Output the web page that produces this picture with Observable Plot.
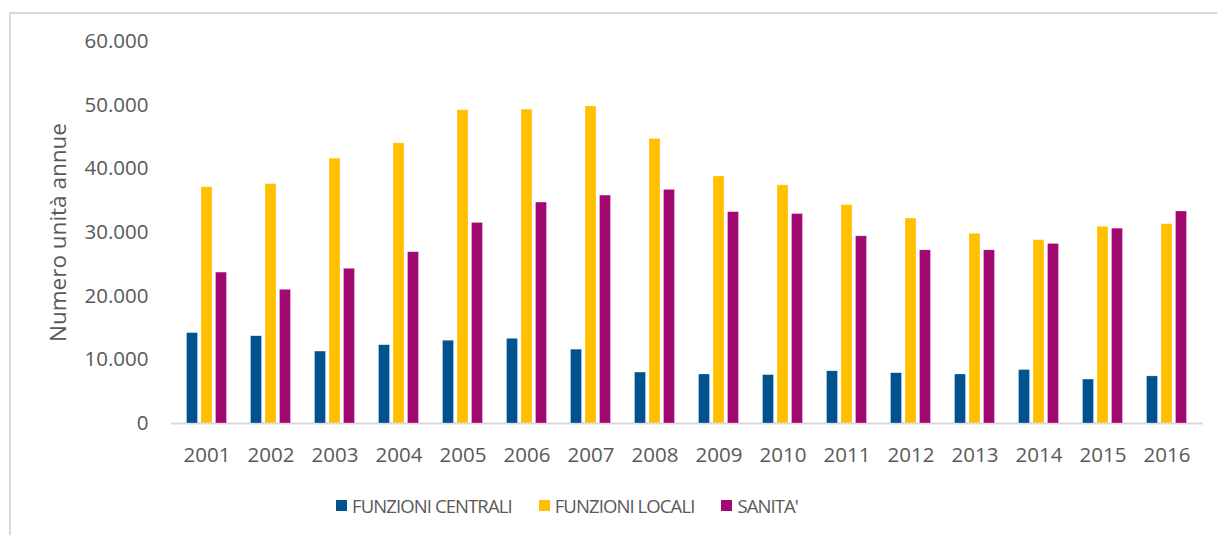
<!DOCTYPE html>
<html><head><meta charset="utf-8">
<script src="https://cdn.jsdelivr.net/npm/d3@7"></script>
<script src="https://cdn.jsdelivr.net/npm/@observablehq/plot@0.6"></script>
<style>
body{margin:0;background:#fff;width:1217px;height:535px;overflow:hidden;position:relative;font-family:"Open Sans",sans-serif;}
#frame{position:absolute;left:9px;top:12px;width:1240px;height:560px;border:2px solid #d9d9d9;box-sizing:border-box}
#chart{position:absolute;left:0;top:0}
#chart g[aria-label="y-axis label"] text{font-size:22.5px}
#legend{position:absolute;top:493px;left:336px;display:flex;align-items:center;font-size:18.5px;letter-spacing:-0.9px;color:#595959;white-space:nowrap}
#legend .item{display:flex;align-items:center;margin-right:27px}
#legend .sw{width:11px;height:11px;margin-right:5px;display:inline-block}
</style></head>
<body>
<div id="frame"></div>
<div id="chart"></div>
<div id="legend"></div>
<script>
const years = ["2001","2002","2003","2004","2005","2006","2007","2008","2009","2010","2011","2012","2013","2014","2015","2016"];
const seriesNames = ["FUNZIONI CENTRALI","FUNZIONI LOCALI","SANITA'"];
const seriesColors = ["#00538F","#FFC000","#A20872"];
const centrali = [14200,13700,11300,12300,13000,13300,11600,8000,7700,7600,8200,7900,7700,8400,6900,7400];
const locali   = [37100,37600,41600,44000,49200,49300,49800,44700,38800,37400,34300,32200,29800,28800,30900,31300];
const sanita   = [23700,21000,24300,26900,31500,34700,35800,36700,33200,32900,29400,27200,27200,28200,30600,33300];
const yTicks = [0,10000,20000,30000,40000,50000,60000];
const yLabel = "Numero unità annue";

const seriesValues = [centrali, locali, sanita];
const rows = [];
seriesNames.forEach((s, i) => years.forEach((y, j) => rows.push({year: y, series: s, value: seriesValues[i][j]})));

const fmt = d3.formatLocale({decimal: ",", thousands: ".", grouping: [3], currency: ["€", ""]}).format(",d");

const plot = Plot.plot({
  width: 1217, height: 480,
  marginLeft: 171, marginRight: 14, marginTop: 41, marginBottom: 57,
  style: {fontFamily: "'Open Sans', sans-serif", fontSize: "20.5px", color: "#595959", background: "transparent"},
  x: {domain: years, paddingInner: 0.825, paddingOuter: 0.4125, label: null, tickSize: 0, tickPadding: 24},
  y: {domain: [0, 60000], ticks: yTicks, tickFormat: fmt, tickSize: 0, tickPadding: 23,
      label: yLabel, labelAnchor: "center", labelOffset: 121, labelArrow: false},
  color: {domain: seriesNames, range: seriesColors},
  marks: [
    Plot.ruleY([0], {stroke: "#d9d9d9", strokeWidth: 2}),
    ...seriesNames.map((s, i) => Plot.barY(rows.filter(d => d.series === s), {
      x: "year", y: "value", fill: "series", dx: (i - 1) * 14.5,
      stroke: "#ffffff", strokeOpacity: 0.45, strokeWidth: 0.6
    }))
  ]
});
document.getElementById("chart").appendChild(plot);
// strip any automatic arrow from the axis label
plot.querySelectorAll('g[aria-label="y-axis label"] text').forEach(t => {
  t.textContent = yLabel;
});

const legend = document.getElementById("legend");
seriesNames.forEach((s, i) => {
  const it = document.createElement("div");
  it.className = "item";
  const sw = document.createElement("span");
  sw.className = "sw"; sw.style.background = seriesColors[i];
  const tx = document.createElement("span");
  tx.textContent = s;
  it.appendChild(sw); it.appendChild(tx);
  legend.appendChild(it);
});
</script>
</body></html>
